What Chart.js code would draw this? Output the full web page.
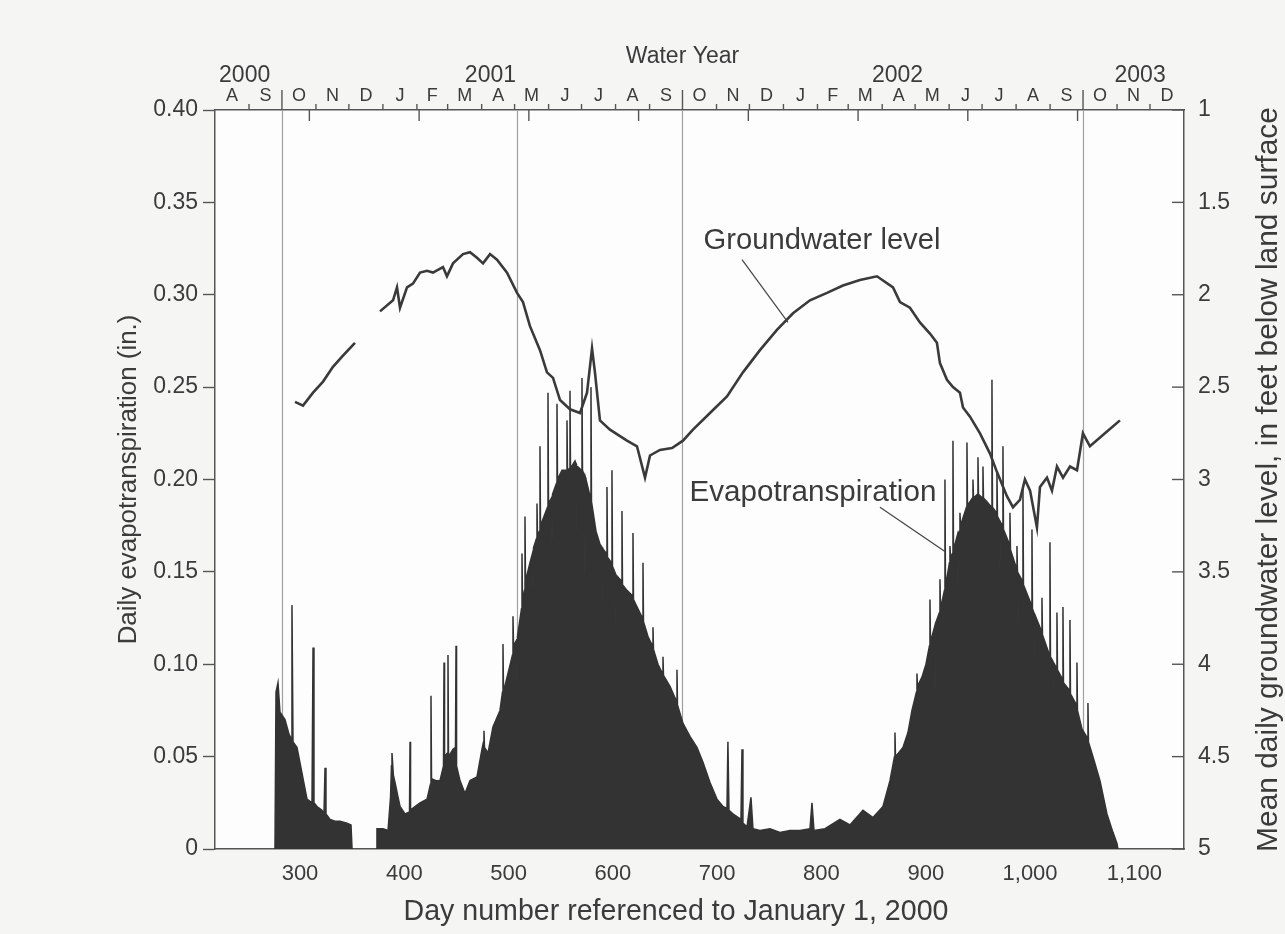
<!DOCTYPE html>
<html>
<head>
<meta charset="utf-8">
<script src="https://cdn.jsdelivr.net/npm/chart.js@4.4.0/dist/chart.umd.min.js"></script>
<style>
html,body{margin:0;padding:0;background:#f4f4f2;}
#wrap{width:1285px;height:934px;}
</style>
</head>
<body>
<div id="wrap"><canvas id="c" width="1285" height="934"></canvas></div>
<script>
// ---------------- data ----------------
// Daily evapotranspiration (in.) vs day number (bottom axis); null = data gap
const etDays = [
  276.0,277.0,278.9,280.8,285.6,289.5,291.4,292.3,293.3,297.1,301.9,306.7,311.5,312.5,313.4,316.3,321.1,323.0,324.0,324.9,328.8,333.6,338.4,345.1,348.9,349.9,
  361,
  372.9,373.8,379.6,384.4,386.8,387.7,388.2,389.5,391.1,394.0,395.9,400.7,405.0,405.5,406.0,410.3,415.1,421.8,425.1,425.6,426.1,430.4,434.2,437.6,438.1,438.6,441.4,441.9,442.4,446.7,449.1,449.6,450.1,453.4,458.2,463.0,469.7,474.5,476.0,476.4,476.9,480.3,485.0,
  491.76,494.16,494.63,495.11,499.43,503.74,504.22,504.70,507.57,508.05,508.53,512.37,512.85,513.33,515.25,515.72,516.20,520.52,522.92,523.40,523.88,526.75,527.23,527.71,529.63,530.11,530.59,533.94,537.30,537.78,538.26,541.13,541.61,542.09,545.93,546.41,546.89,551.20,555.52,556.00,556.47,558.39,558.87,559.35,563.66,565.12,565.60,566.08,569.89,570.37,570.85,572.77,573.25,573.73,574.21,578.52,579.00,579.48,583.80,587.63,590.00,590.50,591.00,593.86,594.34,594.82,598.65,599.13,599.61,602.50,603.00,603.45,
  608.24,608.72,609.20,613.52,618.79,619.27,619.75,624.07,628.38,628.86,629.34,633.65,637.97,638.45,638.93,643.24,647.56,648.04,648.52,654.75,660.98,661.46,661.94,667.22,
  673.9,680.6,686.4,693.1,699.8,705.6,709.4,710.3,711.3,715.1,722.8,723.8,724.7,728.6,732.4,734.3,741.0,750.6,760.2,769.8,779.4,789.0,790.9,792.8,803.4,817.7,827.3,839.8,849.4,
  858.97,865.68,869.99,870.47,870.95,878.14,882.93,886.77,891.08,891.56,892.04,896.36,900.19,903.55,904.03,904.50,908.34,908.82,909.30,913.13,913.61,914.09,917.93,918.41,918.89,922.72,923.20,923.68,925.60,926.08,926.56,930.38,930.86,931.34,932.31,932.79,933.27,939.02,939.50,939.98,944.77,945.25,945.73,949.57,950.05,950.53,954.36,954.84,955.32,958.68,962.99,963.47,963.95,967.78,968.26,968.74,970.62,971.10,971.58,973.54,974.01,974.49,
  980.25,980.73,981.21,986.96,987.44,987.92,988.40,988.88,992.71,993.19,993.67,1001.34,1001.82,1002.30,1004.20,1004.70,1005.20,1010.93,1011.41,1011.89,1018.60,1019.08,1019.56,1021.50,1021.96,1022.44,1025.31,1025.79,1026.27,1031.07,1031.55,1032.02,1037.78,1038.26,1038.74,1044.49,1044.97,1045.45,1049.76,1055.04,1055.51,1055.99,1060.31,1067.02,1073.73,1079.49,1083.32,1084.28];
const etValues = [
  0,0.085,0.090,0.074,0.070,0.062,0.060,0.132,0.058,0.055,0.041,0.027,0.025,0.109,0.025,0.023,0.021,0.019,0.044,0.019,0.016,0.015,0.015,0.014,0.013,0,
  null,
  0,0.011,0.011,0.010,0.028,0.045,0.052,0.040,0.036,0.028,0.023,0.019,0.020,0.058,0.021,0.023,0.025,0.027,0.035,0.083,0.038,0.037,0.037,0.045,0.101,0.050,0.052,0.105,0.050,0.054,0.055,0.110,0.045,0.037,0.030,0.037,0.039,0.054,0.058,0.064,0.055,0.052,0.066,
  0.075,0.085,0.111,0.085,0.095,0.105,0.126,0.110,0.113,0.090,0.115,0.130,0.160,0.135,0.140,0.180,0.145,0.155,0.160,0.140,0.163,0.168,0.187,0.170,0.172,0.218,0.175,0.180,0.185,0.247,0.187,0.190,0.165,0.192,0.198,0.241,0.200,0.205,0.205,0.232,0.205,0.206,0.248,0.206,0.210,0.208,0.170,0.207,0.205,0.255,0.205,0.202,0.145,0.201,0.200,0.190,0.250,0.188,0.172,0.165,0.163,0.130,0.162,0.160,0.196,0.158,0.155,0.205,0.153,0.149,0.120,0.148,
  0.145,0.183,0.143,0.140,0.137,0.171,0.135,0.130,0.125,0.155,0.123,0.115,0.110,0.120,0.108,0.100,0.095,0.104,0.094,0.088,0.080,0.097,0.078,0.068,
  0.061,0.055,0.047,0.036,0.027,0.023,0.022,0.058,0.021,0.019,0.016,0.054,0.014,0.012,0.028,0.011,0.010,0.011,0.009,0.010,0.010,0.011,0.025,0.010,0.011,0.016,0.013,0.021,0.017,
  0.023,0.037,0.050,0.063,0.050,0.055,0.063,0.075,0.085,0.095,0.088,0.093,0.100,0.110,0.135,0.112,0.120,0.082,0.122,0.128,0.146,0.130,0.140,0.200,0.142,0.155,0.164,0.158,0.160,0.221,0.162,0.170,0.140,0.171,0.172,0.182,0.175,0.185,0.220,0.186,0.190,0.200,0.190,0.192,0.212,0.192,0.190,0.207,0.190,0.188,0.185,0.254,0.185,0.182,0.204,0.180,0.178,0.150,0.177,0.175,0.218,0.173,
  0.165,0.182,0.162,0.152,0.164,0.150,0.120,0.149,0.145,0.196,0.143,0.132,0.173,0.130,0.127,0.104,0.126,0.118,0.136,0.116,0.105,0.166,0.104,0.102,0.085,0.101,0.098,0.128,0.097,0.092,0.131,0.090,0.086,0.124,0.084,0.078,0.101,0.075,0.065,0.060,0.079,0.058,0.050,0.037,0.019,0.009,0.003,0];

// Mean daily groundwater level (ft below land surface) vs day number; null = data gap
const gwDays = [295.2,302.9,312.5,322.1,331.6,341.2,352.7,
  364,
  376.7,389.2,393.0,395.9,402.6,408.3,415.1,421.8,427.5,437.1,440.9,446.7,456.3,463.0,469.7,475.5,482.2,488.9,498.5,508.1,513.8,520.5,530.1,536.8,542.6,549.3,558.9,568.5,575.2,580.0,582.8,587.6,597.2,613.5,623.1,630.8,635.6,645.1,656.7,667.2,676.8,693.1,709.4,724.7,741.0,757.3,772.7,789.0,805.3,820.6,836.9,853.2,868.6,875.3,884.8,894.4,904.0,910.7,913.6,920.3,926.1,932.8,935.7,942.4,952.0,961.6,968.3,977.8,983.6,990.3,995.1,1000.0,1006.6,1009.5,1016.2,1021.0,1025.8,1031.6,1038.3,1045.0,1050.7,1057.4,1071.8,1086.2];
const gwLevels = [2.58,2.60,2.53,2.47,2.39,2.33,2.26,
  null,
  2.09,2.03,1.96,2.07,1.96,1.94,1.88,1.87,1.88,1.85,1.90,1.83,1.78,1.77,1.80,1.83,1.78,1.81,1.88,1.99,2.04,2.17,2.30,2.42,2.45,2.57,2.62,2.64,2.53,2.29,2.42,2.68,2.73,2.79,2.82,2.99,2.87,2.84,2.83,2.79,2.73,2.64,2.55,2.42,2.30,2.19,2.10,2.03,1.99,1.95,1.92,1.90,1.96,2.04,2.07,2.15,2.21,2.26,2.37,2.46,2.50,2.53,2.61,2.66,2.75,2.86,2.96,3.09,3.15,3.11,3.00,3.06,3.26,3.04,2.99,3.06,2.93,2.99,2.93,2.95,2.75,2.82,2.75,2.68];

// Axis ticks / labels
const etTicks = [0,0.05,0.10,0.15,0.20,0.25,0.30,0.35,0.40];
const gwTicks = [1,1.5,2,2.5,3,3.5,4,4.5,5];
const dayTicks = [300,400,500,600,700,800,900,1000,1100];
// Top (water-year) axis: day numbers of month starts, Aug 2000 .. Jan 2003
const monthStarts = [214,245,275,306,336,367,398,426,457,487,518,548,579,610,640,671,701,732,763,791,822,852,883,913,944,975,1005,1036,1066,1097];
const monthLetters = ['A','S','O','N','D','J','F','M','A','M','J','J','A','S','O','N','D','J','F','M','A','M','J','J','A','S','O','N','D'];
const waterYearStarts = [275,640,1005];
const waterYears = ['2000','2001','2002','2003'];
const waterYearLabelDays = [241,465,836,1057];
const topDayTicks = [300,400,500,600,700,800,900,1000];
const refLineDays = [275,489,640,1005];

const FONT = "'Liberation Sans', Arial, Helvetica, sans-serif";
const TXT = '#3b3b3b';
Chart.defaults.font.family = FONT;

function fitSize(ctx, text, target, base) {
  ctx.font = base + 'px ' + FONT;
  return base * target / ctx.measureText(text).width;
}

const deco = {
  id: 'deco',
  beforeDraw(chart) {
    const {ctx, chartArea: a} = chart;
    ctx.save();
    ctx.fillStyle = '#f5f5f3';
    ctx.fillRect(0, 0, chart.width, chart.height);
    ctx.fillStyle = '#fdfdfd';
    ctx.fillRect(a.left, a.top, a.right - a.left, a.bottom - a.top);
    ctx.restore();
  },
  beforeDatasetsDraw(chart) {
    const {ctx, chartArea: a, scales} = chart;
    const xt = scales.xTop;
    ctx.save();
    ctx.strokeStyle = '#a0a0a0';
    ctx.lineWidth = 1.2;
    refLineDays.forEach(d => {
      const px = Math.round(xt.getPixelForValue(d)) + 0.5;
      ctx.beginPath(); ctx.moveTo(px, a.top); ctx.lineTo(px, a.bottom); ctx.stroke();
    });
    ctx.restore();
  },
  afterDraw(chart) {
    const {ctx, chartArea: a, scales} = chart;
    const xt = scales.xTop, xb = scales.x, yl = scales.y, yr = scales.y2;
    ctx.save();
    ctx.strokeStyle = '#555';
    ctx.lineWidth = 1.4;
    monthStarts.slice(1, -1).forEach(d => {
      const px = xt.getPixelForValue(d);
      const big = waterYearStarts.includes(d);
      ctx.beginPath(); ctx.moveTo(px, a.top); ctx.lineTo(px, a.top - (big ? 20 : 6)); ctx.stroke();
    });
    topDayTicks.forEach(d => {
      const px = xt.getPixelForValue(d);
      ctx.beginPath(); ctx.moveTo(px, a.top); ctx.lineTo(px, a.top + 11); ctx.stroke();
    });
    gwTicks.forEach(v => {
      const py = yr.getPixelForValue(v);
      ctx.beginPath(); ctx.moveTo(a.right, py); ctx.lineTo(a.right - 12, py); ctx.stroke();
    });

    ctx.fillStyle = TXT;
    ctx.textAlign = 'center';
    ctx.textBaseline = 'middle';
    ctx.font = '23px ' + FONT;
    waterYears.forEach((t, i) => ctx.fillText(t, xt.getPixelForValue(waterYearLabelDays[i]), 76));
    ctx.fillText('Water Year', xt.getPixelForValue(640), 57);

    const cy = (a.top + a.bottom) / 2;
    let s = fitSize(ctx, 'Daily evapotranspiration (in.)', 330, 22);
    ctx.font = s + 'px ' + FONT;
    ctx.save(); ctx.translate(129, cy); ctx.rotate(-Math.PI / 2); ctx.fillText('Daily evapotranspiration (in.)', 0, 0); ctx.restore();
    const rt = 'Mean daily groundwater level, in feet below land surface';
    s = fitSize(ctx, rt, 745, 22);
    ctx.font = s + 'px ' + FONT;
    ctx.save(); ctx.translate(1269, cy); ctx.rotate(-Math.PI / 2); ctx.fillText(rt, 0, 0); ctx.restore();
    const bt = 'Day number referenced to January 1, 2000';
    s = fitSize(ctx, bt, 545, 22);
    ctx.font = s + 'px ' + FONT;
    ctx.fillText(bt, 676, 912);

    ctx.lineWidth = 1.2;
    ctx.strokeStyle = '#444';
    s = fitSize(ctx, 'Groundwater level', 237, 24);
    ctx.font = s + 'px ' + FONT;
    ctx.fillText('Groundwater level', xb.getPixelForValue(800.5), yr.getPixelForValue(1.71));
    ctx.beginPath();
    ctx.moveTo(xb.getPixelForValue(723.8), yr.getPixelForValue(1.81));
    ctx.lineTo(xb.getPixelForValue(767.9), yr.getPixelForValue(2.15));
    ctx.stroke();
    s = fitSize(ctx, 'Evapotranspiration', 247, 24);
    ctx.font = s + 'px ' + FONT;
    ctx.fillText('Evapotranspiration', xb.getPixelForValue(791.8), yl.getPixelForValue(0.193));
    ctx.beginPath();
    ctx.moveTo(xb.getPixelForValue(856.1), yl.getPixelForValue(0.185));
    ctx.lineTo(xb.getPixelForValue(918.4), yl.getPixelForValue(0.161));
    ctx.stroke();
    ctx.restore();
  }
};

const etPoints = etDays.map((d, i) => ({x: d, y: etValues[i]}));
const gwPoints = gwDays.map((d, i) => ({x: d, y: gwLevels[i]}));
const monthMids = monthLetters.map((_, i) => (monthStarts[i] + monthStarts[i + 1]) / 2);

new Chart(document.getElementById('c'), {
  type: 'line',
  data: {
    datasets: [
      {
        label: 'Groundwater level',
        data: gwPoints,
        xAxisID: 'x', yAxisID: 'y2',
        borderColor: '#3a3a3a', borderWidth: 2.6,
        pointRadius: 0, tension: 0, spanGaps: false, fill: false,
        order: 0
      },
      {
        label: 'Evapotranspiration',
        data: etPoints,
        xAxisID: 'x', yAxisID: 'y',
        borderColor: '#333333', backgroundColor: '#333333', borderWidth: 1.5,
        pointRadius: 0, tension: 0, spanGaps: false, fill: 'origin',
        order: 1
      }
    ]
  },
  options: {
    responsive: false,
    animation: false,
    devicePixelRatio: 1,
    layout: {padding: 0},
    plugins: {legend: {display: false}, tooltip: {enabled: false}},
    scales: {
      x: {
        type: 'linear', position: 'bottom', min: 218.5, max: 1147.6,
        afterBuildTicks: sc => { sc.ticks = dayTicks.map(v => ({value: v})); },
        afterFit: sc => { sc.height = 85; },
        ticks: {
          autoSkip: false, maxRotation: 0, padding: 12, color: TXT,
          font: {size: 22},
          callback: v => v.toLocaleString('en-US')
        },
        grid: {display: true, drawOnChartArea: false, drawTicks: false},
        border: {display: true, color: '#555', width: 1.5}
      },
      xTop: {
        type: 'linear', position: 'top', min: 214, max: 1097,
        afterBuildTicks: sc => { sc.ticks = monthMids.map(v => ({value: v})); },
        afterFit: sc => { sc.height = 110; },
        ticks: {
          autoSkip: false, maxRotation: 0, padding: 3, color: TXT,
          font: {size: 18},
          callback: (v, i) => monthLetters[i]
        },
        grid: {display: true, drawOnChartArea: false, drawTicks: false},
        border: {display: true, color: '#555', width: 1.5}
      },
      y: {
        type: 'linear', position: 'left', min: 0, max: 0.4,
        afterBuildTicks: sc => { sc.ticks = etTicks.map(v => ({value: v})); },
        afterFit: sc => { sc.width = 215; },
        ticks: {
          color: TXT, padding: 5, font: {size: 23},
          callback: v => v === 0 ? '0' : v.toFixed(2)
        },
        grid: {display: true, drawOnChartArea: false, drawTicks: true, tickLength: 12, tickColor: '#555', tickWidth: 1.4},
        border: {display: true, color: '#555', width: 1.5}
      },
      y2: {
        type: 'linear', position: 'right', min: 1, max: 5, reverse: true,
        afterBuildTicks: sc => { sc.ticks = gwTicks.map(v => ({value: v})); },
        afterFit: sc => { sc.width = 101; },
        ticks: {
          color: TXT, padding: 14, font: {size: 23},
          callback: v => String(v)
        },
        grid: {display: true, drawOnChartArea: false, drawTicks: false},
        border: {display: true, color: '#555', width: 1.5}
      }
    }
  },
  plugins: [deco]
});
</script>
</body>
</html>
